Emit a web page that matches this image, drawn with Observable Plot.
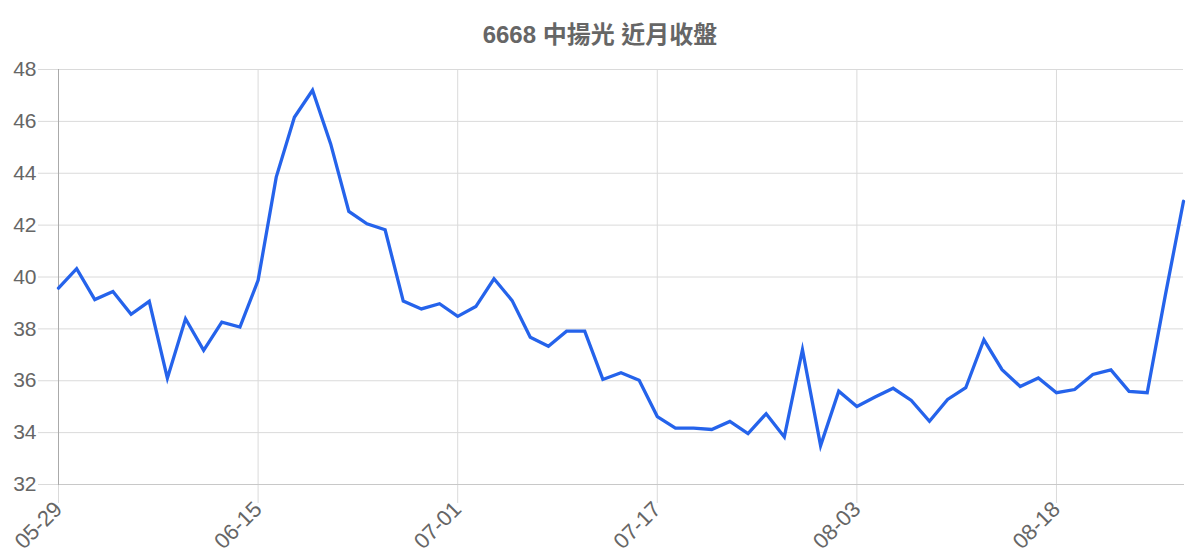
<!DOCTYPE html>
<html>
<head>
<meta charset="utf-8">
<script src="https://cdn.jsdelivr.net/npm/d3@7"></script>
<script src="https://cdn.jsdelivr.net/npm/@observablehq/plot@0.6"></script>
<style>
  html, body { margin: 0; padding: 0; background: #fff; }
  #title {
    width: 1200px; height: 55px; box-sizing: border-box; padding-top: 23px;
    text-align: center; font: bold 24px/24px "Liberation Sans", Arial, "Noto Sans CJK TC", sans-serif;
    color: #666;
  }
</style>
</head>
<body>
<div id="title">6668 中揚光 近月收盤</div>
<div id="chart"></div>
<script>
const dates = [
  "05-29","05-30","06-02","06-03","06-04","06-05","06-06","06-09","06-10","06-11","06-12","06-15",
  "06-16","06-17","06-18","06-19","06-20","06-23","06-24","06-25","06-26","06-27","07-01",
  "07-02","07-03","07-04","07-07","07-08","07-09","07-10","07-11","07-14","07-15","07-17",
  "07-18","07-21","07-22","07-23","07-24","07-25","07-28","07-29","07-30","07-31","08-03",
  "08-04","08-05","08-06","08-07","08-08","08-11","08-12","08-13","08-14","08-15","08-18",
  "08-19","08-20","08-21","08-22","08-25","08-26","08-27"
];
const closes = [
  39.57, 40.32, 39.13, 39.44, 38.56, 39.06, 36.1, 38.39, 37.17, 38.26, 38.07, 39.87,
  43.85, 46.16, 47.2, 45.13, 42.53, 42.05, 41.82, 39.07, 38.77, 38.97, 38.48,
  38.86, 39.93, 39.09, 37.68, 37.33, 37.91, 37.91, 36.05, 36.31, 36.02, 34.62,
  34.17, 34.17, 34.12, 34.43, 33.96, 34.73, 33.83, 37.2, 33.5, 35.6, 35.01,
  35.37, 35.71, 35.24, 34.44, 35.28, 35.73, 37.58, 36.43, 35.78, 36.11, 35.54,
  35.66, 36.24, 36.42, 35.59, 35.54, 39.3, 42.92
];
const xTickLabels = ["05-29","06-15","07-01","07-17","08-03","08-18"];
const yTicks = [32, 34, 36, 38, 40, 42, 44, 46, 48];

const data = dates.map((d, i) => ({date: d, close: closes[i]}));
const font = "Liberation Sans, Arial, sans-serif";

const chart = Plot.plot({
  width: 1200,
  height: 505,
  marginTop: 14,
  marginBottom: 76,
  marginLeft: 58,
  marginRight: 17,
  style: {fontFamily: font, color: "#666", background: "#fff"},
  x: {type: "point", domain: dates, padding: 0, round: false, label: null},
  y: {domain: [32, 48], label: null},
  marks: [
    Plot.gridY(yTicks, {stroke: "#dadada", strokeOpacity: 1}),
    Plot.gridX(xTickLabels, {stroke: "#dadada", strokeOpacity: 1}),
    Plot.axisY(yTicks, {tickSize: 20, tickPadding: 2, stroke: "#dadada", fill: "#666", fontSize: 21, label: null}),
    Plot.axisX(xTickLabels, {tickSize: 19, tickPadding: 2, tickRotate: -45, stroke: "#dadada", fill: "#666", fontSize: 22, label: null}),
    Plot.frame({anchor: "bottom", stroke: "#c8c8c8"}),
    Plot.frame({anchor: "left", stroke: "#aaa"}),
    Plot.line(data, {x: "date", y: "close", stroke: "#2563eb", strokeWidth: 3.3, strokeLinejoin: "miter", strokeMiterlimit: 10})
  ]
});
document.getElementById("chart").appendChild(chart);
</script>
</body>
</html>
